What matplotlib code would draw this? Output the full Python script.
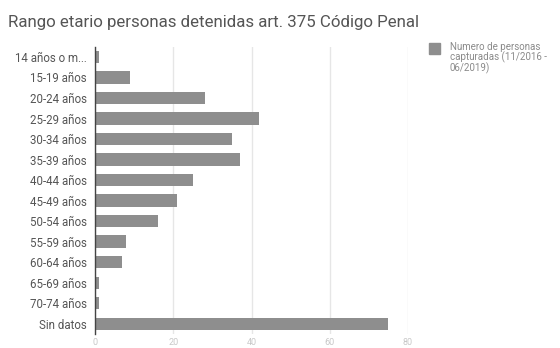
import matplotlib
matplotlib.use("Agg")
import matplotlib.pyplot as plt
from matplotlib.patches import Rectangle

categories = ["14 años o m...", "15-19 años", "20-24 años", "25-29 años", "30-34 años",
              "35-39 años", "40-44 años", "45-49 años", "50-54 años", "55-59 años",
              "60-64 años", "65-69 años", "70-74 años", "Sin datos"]
values = [1, 9, 28, 42, 35, 37, 25, 21, 16, 8, 7, 1, 1, 75]
x_ticks = [0, 20, 40, 60, 80]
title = "Rango etario personas detenidas art. 375 Código Penal"
legend_label = "Numero de personas\ncapturadas (11/2016 -\n06/2019)"

plt.rcParams['font.family'] = ['Roboto', 'DejaVu Sans']

fig = plt.figure(figsize=(5.6, 3.48), dpi=100)
ax = fig.add_axes([95/560, 1-334/348, (408-95)/560, (334-46.7)/348])

bar_color = "#8e8e8e"
ax.barh(range(len(categories)), values, height=0.6, color=bar_color, zorder=3)
ax.set_ylim(len(categories)-0.5, -0.5)
ax.set_xlim(0, 80)
ax.set_yticks(range(len(categories)))
ax.set_yticklabels(categories, fontsize=8.3, color="#555555")
ax.set_xticks(x_ticks)
ax.set_xticklabels([str(t) for t in x_ticks], fontsize=6.5, color="#c8c8c8")
ax.tick_params(axis='both', length=0)
ax.tick_params(axis='y', pad=6)
ax.tick_params(axis='x', pad=3)
ax.grid(axis='x', color="#e6e6e6", linewidth=1, zorder=0)
for s in ["top", "right", "bottom"]:
    ax.spines[s].set_visible(False)
ax.spines["left"].set_color("#444444")
ax.spines["left"].set_linewidth(1)
ax.spines["left"].set_zorder(4)

fig.text(8/560, 1-22/348, title, fontsize=12.2, color="#555555", va="center", ha="left")

# legend
fig.patches.append(Rectangle((429/560, 1-54/348), 11/560, 11/348, transform=fig.transFigure,
                             color=bar_color, figure=fig))
fig.text(450/560, 1-42/348, legend_label, fontsize=7, color="#8a8a8a", va="top", ha="left",
         linespacing=0.95)

fig.savefig("out.png", dpi=100)
